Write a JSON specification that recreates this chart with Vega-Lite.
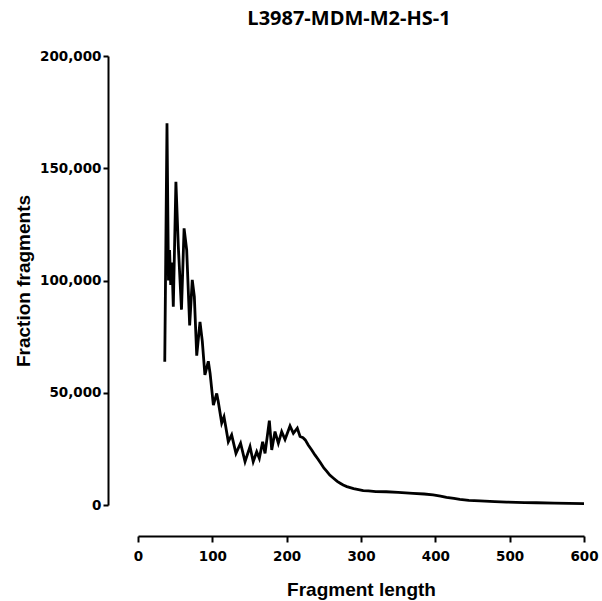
{
  "$schema": "https://vega.github.io/schema/vega-lite/v6.json",
  "width": 446,
  "height": 449,
  "autosize": {"type": "none"},
  "padding": {"left": 138, "top": 56, "right": 18, "bottom": 96},
  "title": {"text": "L3987-MDM-M2-HS-1", "font": "Open Sans", "fontSize": 20, "fontWeight": "bold", "anchor": "middle", "dx": -12, "offset": 20, "color": "black"},
  "config": {
    "view": {"stroke": null},
    "axis": {
      "grid": false,
      "labelFlush": false,
      "domainColor": "black", "domainWidth": 2,
      "tickColor": "black", "tickWidth": 2, "tickSize": 6,
      "labelFont": "DejaVu Sans", "labelFontSize": 13.5, "labelFontWeight": "bold", "labelColor": "black",
      "titleFont": "Liberation Sans", "titleFontSize": 19, "titleFontWeight": "bold", "titleColor": "black"
    }
  },
  "data": {"values": [
    {"length": 36, "fraction": 63800},
    {"length": 39, "fraction": 170000},
    {"length": 41, "fraction": 100000},
    {"length": 42.5, "fraction": 113600},
    {"length": 44, "fraction": 98000},
    {"length": 45.7, "fraction": 108000},
    {"length": 47.5, "fraction": 88300},
    {"length": 51, "fraction": 144000},
    {"length": 54.2, "fraction": 115500},
    {"length": 58.5, "fraction": 87000},
    {"length": 62, "fraction": 123200},
    {"length": 65.5, "fraction": 113600},
    {"length": 69.5, "fraction": 80000},
    {"length": 73, "fraction": 100300},
    {"length": 75.8, "fraction": 92800},
    {"length": 79, "fraction": 66500},
    {"length": 83.4, "fraction": 81600},
    {"length": 86.5, "fraction": 73000},
    {"length": 90, "fraction": 58000},
    {"length": 94.6, "fraction": 64000},
    {"length": 97, "fraction": 58600},
    {"length": 101.4, "fraction": 44500},
    {"length": 105.9, "fraction": 49700},
    {"length": 108, "fraction": 46000},
    {"length": 112.6, "fraction": 36500},
    {"length": 115.7, "fraction": 39300},
    {"length": 118, "fraction": 35000},
    {"length": 121.5, "fraction": 28200},
    {"length": 126, "fraction": 31200},
    {"length": 131.8, "fraction": 23000},
    {"length": 138, "fraction": 27500},
    {"length": 144, "fraction": 19300},
    {"length": 150.7, "fraction": 26000},
    {"length": 155, "fraction": 19300},
    {"length": 159.7, "fraction": 23700},
    {"length": 163.2, "fraction": 20800},
    {"length": 167.7, "fraction": 28200},
    {"length": 170.9, "fraction": 23000},
    {"length": 176.7, "fraction": 37600},
    {"length": 179.9, "fraction": 24500},
    {"length": 184.3, "fraction": 32700},
    {"length": 188.8, "fraction": 27500},
    {"length": 193.3, "fraction": 32700},
    {"length": 197.8, "fraction": 29200},
    {"length": 204.5, "fraction": 35200},
    {"length": 209, "fraction": 31900},
    {"length": 214.3, "fraction": 34200},
    {"length": 218, "fraction": 30500},
    {"length": 222, "fraction": 30000},
    {"length": 225, "fraction": 29000},
    {"length": 229, "fraction": 26700},
    {"length": 233.7, "fraction": 24500},
    {"length": 238, "fraction": 22300},
    {"length": 242, "fraction": 20500},
    {"length": 245, "fraction": 19000},
    {"length": 250, "fraction": 16500},
    {"length": 254, "fraction": 15000},
    {"length": 258, "fraction": 13300},
    {"length": 263, "fraction": 11900},
    {"length": 268, "fraction": 10500},
    {"length": 272, "fraction": 9700},
    {"length": 276, "fraction": 8900},
    {"length": 281, "fraction": 8200},
    {"length": 290, "fraction": 7300},
    {"length": 295, "fraction": 7000},
    {"length": 303, "fraction": 6400},
    {"length": 310, "fraction": 6300},
    {"length": 320, "fraction": 6000},
    {"length": 334, "fraction": 5900},
    {"length": 350, "fraction": 5600},
    {"length": 370, "fraction": 5200},
    {"length": 385, "fraction": 4900},
    {"length": 397, "fraction": 4500},
    {"length": 407, "fraction": 4000},
    {"length": 415, "fraction": 3400},
    {"length": 425, "fraction": 2900},
    {"length": 433, "fraction": 2500},
    {"length": 445, "fraction": 2100},
    {"length": 460, "fraction": 1800},
    {"length": 480, "fraction": 1500},
    {"length": 496, "fraction": 1300},
    {"length": 520, "fraction": 1100},
    {"length": 536, "fraction": 1000},
    {"length": 560, "fraction": 800},
    {"length": 580, "fraction": 700},
    {"length": 600, "fraction": 600}
  ]},
  "mark": {"type": "line", "color": "black", "strokeWidth": 2.8},
  "encoding": {
    "x": {
      "field": "length", "type": "quantitative",
      "scale": {"domain": [0, 600], "nice": false, "zero": false},
      "axis": {"title": "Fragment length", "values": [0, 100, 200, 300, 400, 500, 600], "format": "d", "offset": 31, "labelPadding": 7, "titlePadding": 18}
    },
    "y": {
      "field": "fraction", "type": "quantitative",
      "scale": {"domain": [0, 200000], "nice": false},
      "axis": {"title": "Fraction fragments", "values": [0, 50000, 100000, 150000, 200000], "format": ",d", "offset": 30, "tickSize": 5, "labelPadding": 2, "titlePadding": 6}
    }
  }
}
